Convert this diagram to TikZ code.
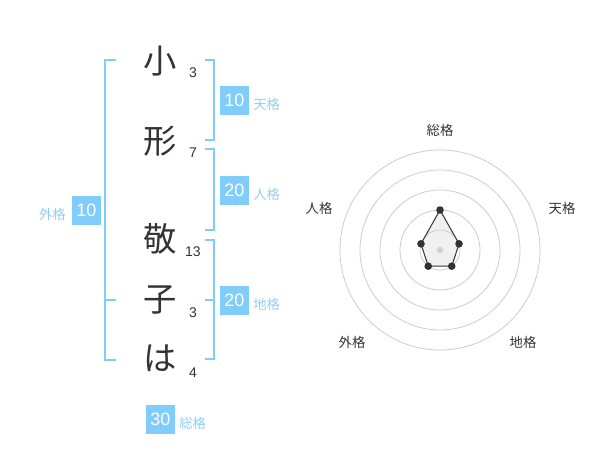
\documentclass[tikz,border=0pt]{standalone}
\usepackage{fontspec}
\setmainfont{Liberation Sans}
\newfontfamily\jp{Noto Sans CJK JP}
\definecolor{kakublue}{HTML}{80CCFA}
\definecolor{kakutext}{HTML}{8ED0F5}
\definecolor{inkgray}{HTML}{333333}
\begin{document}
\begin{tikzpicture}[x=0.75pt,y=-0.75pt,
  moji/.style={font=\jp\fontsize{25}{25}\selectfont,text=inkgray,inner sep=0pt},
  kaku/.style={font=\fontsize{10.5}{10.5}\selectfont,text=inkgray,inner sep=0pt},
  scorebox/.style={fill=kakublue,text=white,font=\fontsize{13.5}{13.5}\selectfont,
    minimum width=21.75pt,minimum height=21.75pt,inner sep=0pt},
  scorename/.style={font=\jp\fontsize{10}{10}\selectfont,text=kakutext,inner sep=0pt},
  bracket/.style={draw=kakublue,line width=1.5pt},
  axisname/.style={font=\jp\fontsize{10}{10}\selectfont,text=inkgray,inner sep=0pt}]
  \useasboundingbox (0,0) rectangle (600,470);
  % name and strokes
  \node[moji] (c1) at (160,61) {小};
  \node[moji] (c2) at (160,141) {形};
  \node[moji] (c3) at (160,239) {敬};
  \node[moji] (c4) at (160,300) {子};
  \node[moji] (c5) at (160,358) {は};
  \node[kaku] (n1) at (193,73) {3};
  \node[kaku] (n2) at (193,153) {7};
  \node[kaku] (n3) at (193,252) {13};
  \node[kaku] (n4) at (193,313) {3};
  \node[kaku] (n5) at (193,373) {4};
  % brackets
  \draw[bracket] (116,60) -- (105,60) -- (105,360) -- (116,360);
  \draw[bracket] (105,300) -- (116,300);
  \draw[bracket] (205,60) -- (214,60) -- (214,140) -- (205,140);
  \draw[bracket] (205,149) -- (214,149) -- (214,230) -- (205,230);
  \draw[bracket] (205,240) -- (214,240) -- (214,359) -- (205,359);
  \draw[bracket] (205,300) -- (214,300);
  % scores
  \node[scorebox] (ten) at (234.5,100.5) {10};
  \node[scorename,anchor=west] (tenname) at (253,104) {天格};
  \node[scorebox] (jin) at (234.5,190.5) {20};
  \node[scorename,anchor=west] (jinname) at (253,194) {人格};
  \node[scorebox] (chi) at (234.5,300.5) {20};
  \node[scorename,anchor=west] (chiname) at (253,304) {地格};
  \node[scorebox] (gai) at (86.5,210.5) {10};
  \node[scorename,anchor=east] (gainame) at (66,214) {外格};
  \node[scorebox] (sou) at (160.5,419) {30};
  \node[scorename,anchor=west] (souname) at (179,423) {総格};
  % radar chart
  \begin{scope}[shift={(440,250)},x=0.75pt,y=0.75pt]
    \coordinate (psou) at (90:40);
    \coordinate (pten) at (18:20);
    \coordinate (pchi) at (-54:20);
    \coordinate (pgai) at (-126:20);
    \coordinate (pjin) at (162:20);
    \fill[gray!12] (psou) -- (pten) -- (pchi) -- (pgai) -- (pjin) -- cycle;
    \foreach \r in {20,40,60,80,100}
      \draw[gray!40,line width=0.6pt] (0,0) circle (\r);
    \draw[inkgray,line width=0.75pt]
      (psou) -- (pten) -- (pchi) -- (pgai) -- (pjin) -- cycle;
    \fill[gray!35] (0,0) circle (3.2);
    \foreach \p in {psou,pten,pchi,pgai,pjin}
      \fill[inkgray] (\p) circle (3.8);
  \end{scope}
  \node[axisname] (asou) at (440,130) {総格};
  \node[axisname] (aten) at (562,208) {天格};
  \node[axisname] (ajin) at (319,208) {人格};
  \node[axisname] (agai) at (352,342) {外格};
  \node[axisname] (achi) at (523,342) {地格};
\end{tikzpicture}
\end{document}
